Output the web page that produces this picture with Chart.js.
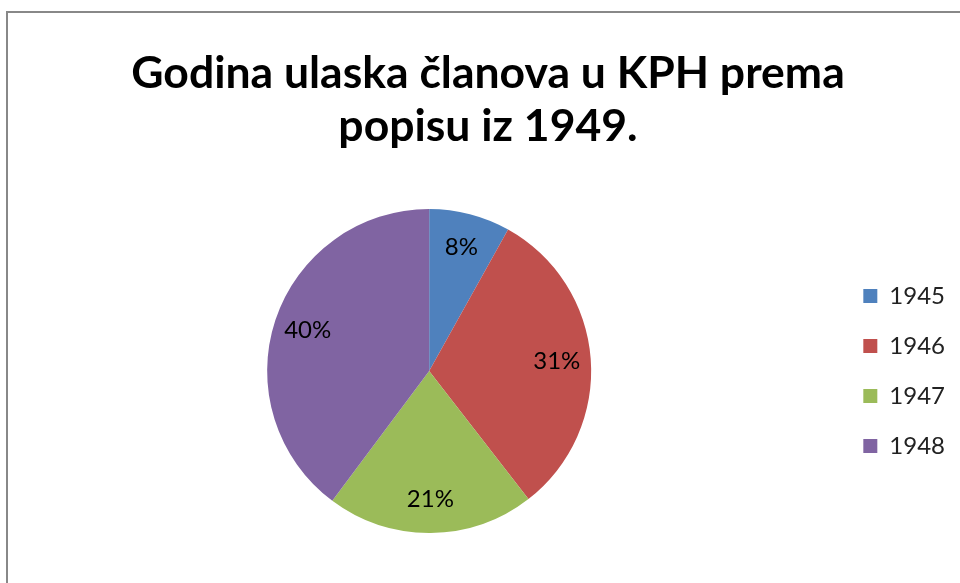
<!DOCTYPE html>
<html>
<head>
<meta charset="utf-8">
<script src="https://cdn.jsdelivr.net/npm/chart.js@4"></script>
<style>
  body { margin: 0; background: #fff; }
  #frame {
    position: absolute; left: 6px; top: 11px; width: 954px; height: 572px;
    border-left: 2px solid #888; border-top: 2px solid #888;
  }
  #wrap { position: absolute; left: 2px; top: 2px; width: 952px; height: 570px; }
</style>
</head>
<body>
<div id="frame"><div id="wrap"><canvas id="myChart"></canvas></div></div>
<script>
// data (share of members, %)
const years = ['1945', '1946', '1947', '1948'];
const shares = [8.1, 31.4, 20.7, 39.8];
const sliceColors = ['#4F81BD', '#C0504D', '#9BBB59', '#8064A2'];
const titleLines = ['Godina ulaska članova u KPH prema', 'popisu iz 1949.'];

const FONT = 'Lato, Calibri, "Open Sans", sans-serif';

// draw the percent labels inside the slices
const sliceLabels = {
    id: 'sliceLabels',
    afterDatasetsDraw(chart) {
        const ctx = chart.ctx;
        const meta = chart.getDatasetMeta(0);
        ctx.save();
        ctx.font = '24px ' + FONT;
        ctx.fillStyle = '#000';
        ctx.textAlign = 'center';
        ctx.textBaseline = 'middle';
        meta.data.forEach((arc, i) => {
            const p = arc.getProps(['x', 'y', 'startAngle', 'endAngle', 'outerRadius']);
            const mid = (p.startAngle + p.endAngle) / 2;
            const r = p.outerRadius * 0.79;
            ctx.fillText(Math.round(shares[i]) + '%', p.x + Math.cos(mid) * r, p.y + Math.sin(mid) * r);
        });
        ctx.restore();
    }
};

const ctx = document.getElementById('myChart').getContext('2d');
const myChart = new Chart(ctx, {
    type: 'pie',
    data: {
        labels: years,
        datasets: [{
            data: shares,
            backgroundColor: sliceColors,
            borderWidth: 0
        }]
    },
    options: {
        responsive: true,
        maintainAspectRatio: false,
        animation: false,
        layout: { padding: { left: 11, right: 7, top: 0, bottom: 52 } },
        plugins: {
            title: {
                display: true,
                text: titleLines,
                color: '#000',
                font: { family: FONT, size: 44.5, weight: 'bold', lineHeight: 53 / 44.5 },
                padding: { top: 32, bottom: 56 }
            },
            legend: {
                position: 'right',
                fullSize: false,
                labels: {
                    color: '#222',
                    font: { family: FONT, size: 24 },
                    boxWidth: 14,
                    boxHeight: 14,
                    padding: 26
                }
            },
            tooltip: { enabled: false }
        }
    },
    plugins: [sliceLabels]
});
</script>
</body>
</html>
